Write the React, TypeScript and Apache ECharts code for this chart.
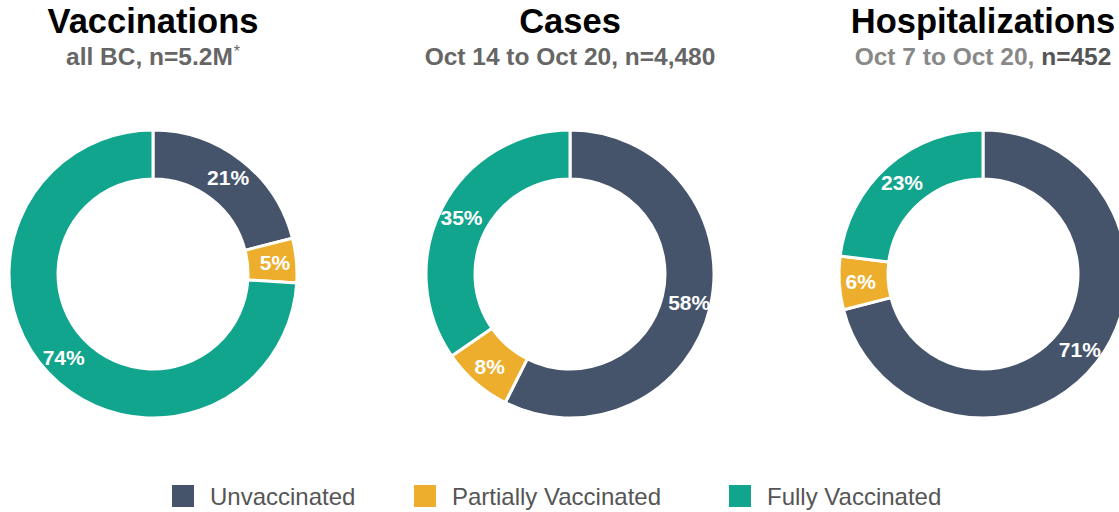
import React, { useEffect, useRef } from "react";
import * as echarts from "echarts";

const categories = ["Unvaccinated", "Partially Vaccinated", "Fully Vaccinated"];
const colors = ["#45546b", "#ecae2c", "#11a58d"];

const vaccinationsValues = [21, 5, 74];
const casesValues = [58, 8, 35];
const hospitalValues = [71, 6, 23];

const panelTitles = ["Vaccinations", "Cases", "Hospitalizations"];

const FONT = "'Liberation Sans', Arial, sans-serif";
const SUBFONT = "'Liberation Sans', Arial, sans-serif";
const SUBSIZE = 24.5;

export default function App() {
  const ref = useRef<HTMLDivElement>(null);

  useEffect(() => {
    if (!ref.current) return;
    const chart = echarts.init(ref.current, null, { renderer: "svg" });

    const centers = [
      [153, 274],
      [570, 274],
      [983, 274],
    ];
    const valuesList = [vaccinationsValues, casesValues, hospitalValues];

    const series = valuesList.map((vals, i) => ({
      type: "pie",
      center: centers[i],
      radius: [95, 144],
      startAngle: 90,
      clockwise: true,
      avoidLabelOverlap: false,
      itemStyle: { borderColor: "#ffffff", borderWidth: 3 },
      label: {
        show: true,
        position: "inside",
        formatter: "{c}%",
        color: "#ffffff",
        fontFamily: FONT,
        fontWeight: "bold",
        fontSize: 21,
      },
      labelLine: { show: false },
      emphasis: { disabled: true },
      data: categories.map((name, k) => ({
        name,
        value: vals[k],
        itemStyle: { color: colors[k] },
      })),
    }));

    const legendLefts = [170, 412, 727];
    const legends = categories.map((name, i) => ({
      data: [{ name, icon: "rect" }],
      left: legendLefts[i],
      top: 483,
      padding: 0,
      itemWidth: 24,
      itemHeight: 24,
      itemGap: 0,
      selectedMode: false,
      textStyle: {
        fontFamily: FONT,
        fontSize: 24,
        color: "#555555",
        padding: [0, 0, 0, 10],
      },
    }));

    const titleEls = panelTitles.map((t, i) => ({
      type: "text",
      x: centers[i][0],
      y: 21,
      style: {
        text: t,
        fontFamily: FONT,
        fontWeight: "bold",
        fontSize: 34.5,
        fill: "#000000",
        align: "center",
        verticalAlign: "middle",
      },
    }));

    const subStyle = {
      fontFamily: SUBFONT,
      fontWeight: "bold",
      fontSize: SUBSIZE,
      align: "center",
      verticalAlign: "middle",
    };

    const subEls = [
      {
        type: "text",
        x: centers[0][0],
        y: 56,
        style: {
          ...subStyle,
          text: "{a|all BC, n=5.2M}{s|*}",
          fill: "#666666",
          rich: {
            a: { fontFamily: SUBFONT, fontWeight: "bold", fontSize: SUBSIZE, fill: "#666666" },
            s: { fontFamily: FONT, fontWeight: "normal", fontSize: 16, fill: "#666666", verticalAlign: "top", padding: [0, 0, 8, 1] },
          },
        },
      },
      {
        type: "text",
        x: centers[1][0],
        y: 56,
        style: { ...subStyle, text: "Oct 14 to Oct 20, n=4,480", fill: "#666666" },
      },
      {
        type: "text",
        x: centers[2][0],
        y: 56,
        style: {
          ...subStyle,
          text: "{a|Oct 7 to Oct 20, }{b|n=452}",
          fill: "#888888",
          rich: {
            a: { fontFamily: SUBFONT, fontWeight: "bold", fontSize: SUBSIZE, fill: "#888888" },
            b: { fontFamily: SUBFONT, fontWeight: "bold", fontSize: SUBSIZE, fill: "#555555" },
          },
        },
      },
    ];

    chart.setOption({
      animation: false,
      backgroundColor: "#ffffff",
      legend: legends,
      series,
      graphic: [...titleEls, ...subEls],
    });

    return () => chart.dispose();
  }, []);

  return (
    <div
      ref={ref}
      style={{ position: "fixed", left: 0, top: 0, width: 1119, height: 512 }}
    />
  );
}
